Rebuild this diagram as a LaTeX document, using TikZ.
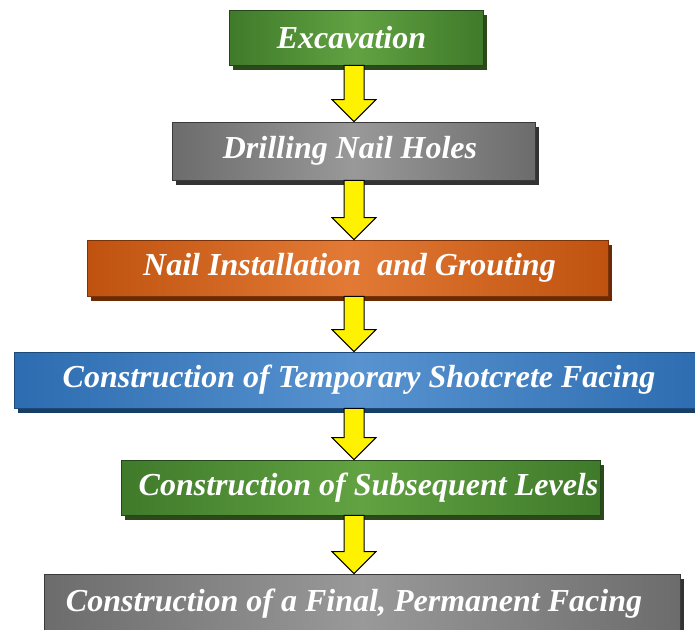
\documentclass[tikz,border=0pt]{standalone}
\usepackage{fontspec}
\setmainfont{Liberation Serif}
\usetikzlibrary{calc}

% box colours: edge, centre, border, drop shadow
\definecolor{grnE}{HTML}{3F7A2A}\definecolor{grnM}{HTML}{62A242}\definecolor{grnB}{HTML}{24461A}\definecolor{grnS}{HTML}{2A4A1C}
\definecolor{gryE}{HTML}{6C6C6C}\definecolor{gryM}{HTML}{999999}\definecolor{gryB}{HTML}{3A3A3A}\definecolor{gryS}{HTML}{333333}
\definecolor{orgE}{HTML}{BF520F}\definecolor{orgM}{HTML}{E27A35}\definecolor{orgB}{HTML}{7A3208}\definecolor{orgS}{HTML}{6B2A06}
\definecolor{bluE}{HTML}{2C6CB0}\definecolor{bluM}{HTML}{5893D0}\definecolor{bluB}{HTML}{1B4A7A}\definecolor{bluS}{HTML}{173F66}

\tikzset{
  stepbox/.style n args={4}{
    rectangle, line width=0.8pt, draw=#3,
    left color=#1, right color=#1, middle color=#2,
    preaction={fill=#4, transform canvas={shift={(4pt,-5pt)}}},
    inner sep=0pt, text=white,
    font=\bfseries\itshape\fontsize{32}{32}\selectfont
  },
  greenbox/.style={stepbox={grnE}{grnM}{grnB}{grnS}},
  graybox/.style={stepbox={gryE}{gryM}{gryB}{gryS}},
  orangebox/.style={stepbox={orgE}{orgM}{orgB}{orgS}},
  bluebox/.style={stepbox={bluE}{bluM}{bluB}{bluS}},
  flowarrow/.style={fill=yellow, draw=black, line width=1pt, line join=miter}
}

% yellow block arrow from the bottom of one box to the top of the next
\newcommand\flowarrow[2]{%
  \path[flowarrow] let \p1=(#1.south), \p2=(#2.north), \p3=(axis) in
    (\x3-10pt,\y1) -- (\x3-10pt,\y2+22pt) -- (\x3-22pt,\y2+22pt) -- (\x3,\y2)
    -- (\x3+22pt,\y2+22pt) -- (\x3+10pt,\y2+22pt) -- (\x3+10pt,\y1) -- cycle;}

\begin{document}
\begin{tikzpicture}[x=1pt,y=-1pt]
  \useasboundingbox (0,0) rectangle (695,629);
  \coordinate (axis) at (354,0);

  \node[greenbox, minimum width=254pt, minimum height=55pt] (exc) at (356,37.5) {Excavation\hspace*{9pt}};
  \node[graybox, minimum width=363pt, minimum height=58pt] (drl) at (353.5,151) {Drilling Nail Holes\hspace*{7pt}};
  \node[orangebox, minimum width=521pt, minimum height=56pt] (nai) at (347.5,268) {\hspace*{4pt}Nail Installation\ \ and Grouting};
  \node[bluebox, minimum width=690pt, minimum height=56pt] (shc) at (359,380) {Construction of Temporary Shotcrete Facing};
  \node[greenbox, minimum width=479pt, minimum height=55pt] (sub) at (360.5,487.5) {\hspace*{16pt}Construction of Subsequent Levels};
  \node[graybox, minimum width=636pt, minimum height=60pt] (fin) at (362,604) {Construction of a Final, Permanent Facing\hspace*{16pt}};

  \flowarrow{exc}{drl}
  \flowarrow{drl}{nai}
  \flowarrow{nai}{shc}
  \flowarrow{shc}{sub}
  \flowarrow{sub}{fin}
\end{tikzpicture}
\end{document}
